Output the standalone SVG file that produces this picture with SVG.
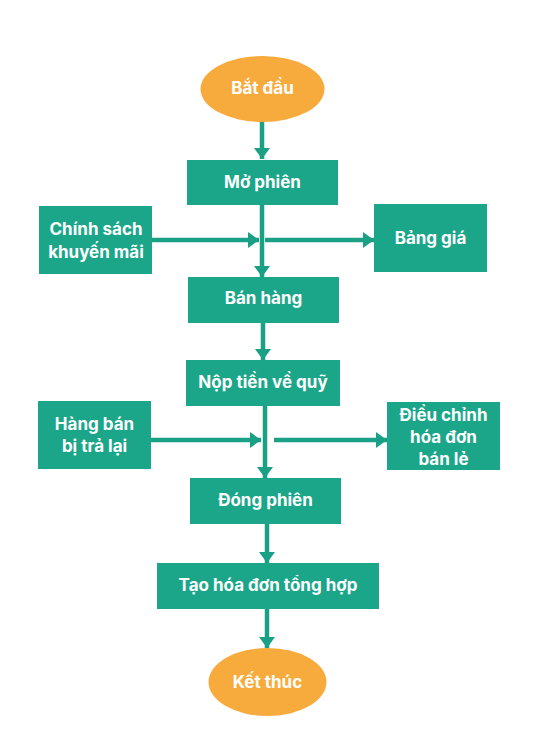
<svg xmlns="http://www.w3.org/2000/svg" width="550" height="734" viewBox="0 0 550 734">
<defs>
<marker id="ah" markerUnits="userSpaceOnUse" markerWidth="11" markerHeight="16" refX="11" refY="8" orient="auto">
<path d="M0,0 L11,8 L0,16 z" fill="#1aa084"/>
</marker>
<style>
.box{fill:#1ba689;}
.ell{fill:#f8ab3d;}
.t{font-family:Inter,"Noto Sans","DejaVu Sans",sans-serif;font-weight:700;font-size:17px;fill:#ffffff;text-anchor:middle;}
.c{stroke:#1aa084;stroke-width:4.5;fill:none;marker-end:url(#ah);}
</style>
</defs>
<rect width="550" height="734" fill="#ffffff"/>
<g id="connectors">
<line class="c" x1="262" y1="121" x2="262" y2="159"/>
<line class="c" x1="262" y1="205" x2="262" y2="277"/>
<line class="c" x1="152" y1="240" x2="259" y2="240"/>
<line class="c" x1="265" y1="240" x2="374" y2="240"/>
<line class="c" x1="263" y1="322" x2="263" y2="360"/>
<line class="c" x1="265" y1="405" x2="265" y2="478"/>
<line class="c" x1="150" y1="440" x2="261" y2="440"/>
<line class="c" x1="274" y1="440" x2="387" y2="440"/>
<line class="c" x1="267" y1="524" x2="267" y2="563"/>
<line class="c" x1="267" y1="609" x2="267" y2="648"/>
</g>
<g id="start">
<ellipse class="ell" cx="262.5" cy="89" rx="62" ry="33"/>
<text class="t" x="262.5" y="94">Bắt đầu</text>
</g>
<g id="mo-phien">
<rect class="box" x="187" y="160" width="151" height="45"/>
<text class="t" x="262.5" y="188">Mở phiên</text>
</g>
<g id="chinh-sach">
<rect class="box" x="39" y="206" width="113" height="68"/>
<text class="t" x="96" y="235">Chính sách</text>
<text class="t" x="96" y="257.5">khuyến mãi</text>
</g>
<g id="bang-gia">
<rect class="box" x="374" y="204" width="113" height="68"/>
<text class="t" x="430.5" y="244">Bảng giá</text>
</g>
<g id="ban-hang">
<rect class="box" x="188" y="277" width="151" height="46"/>
<text class="t" x="263.5" y="304">Bán hàng</text>
</g>
<g id="nop-tien">
<rect class="box" x="186" y="360" width="154" height="46"/>
<text class="t" x="263" y="388">Nộp tiền về quỹ</text>
</g>
<g id="hang-ban">
<rect class="box" x="38" y="401" width="113" height="68"/>
<text class="t" x="94.5" y="430">Hàng bán</text>
<text class="t" x="94.5" y="452">bị trả lại</text>
</g>
<g id="dieu-chinh">
<rect class="box" x="387" y="402" width="113" height="68"/>
<text class="t" x="443.5" y="421">Điều chỉnh</text>
<text class="t" x="443.5" y="443">hóa đơn</text>
<text class="t" x="443.5" y="465">bán lẻ</text>
</g>
<g id="dong-phien">
<rect class="box" x="190" y="478" width="151" height="46"/>
<text class="t" x="265.5" y="506">Đóng phiên</text>
</g>
<g id="tao-hoa-don">
<rect class="box" x="157" y="563" width="222" height="46"/>
<text class="t" x="268" y="591">Tạo hóa đơn tổng hợp</text>
</g>
<g id="end">
<ellipse class="ell" cx="267.5" cy="682" rx="59" ry="34"/>
<text class="t" x="267.5" y="688">Kết thúc</text>
</g>
</svg>
